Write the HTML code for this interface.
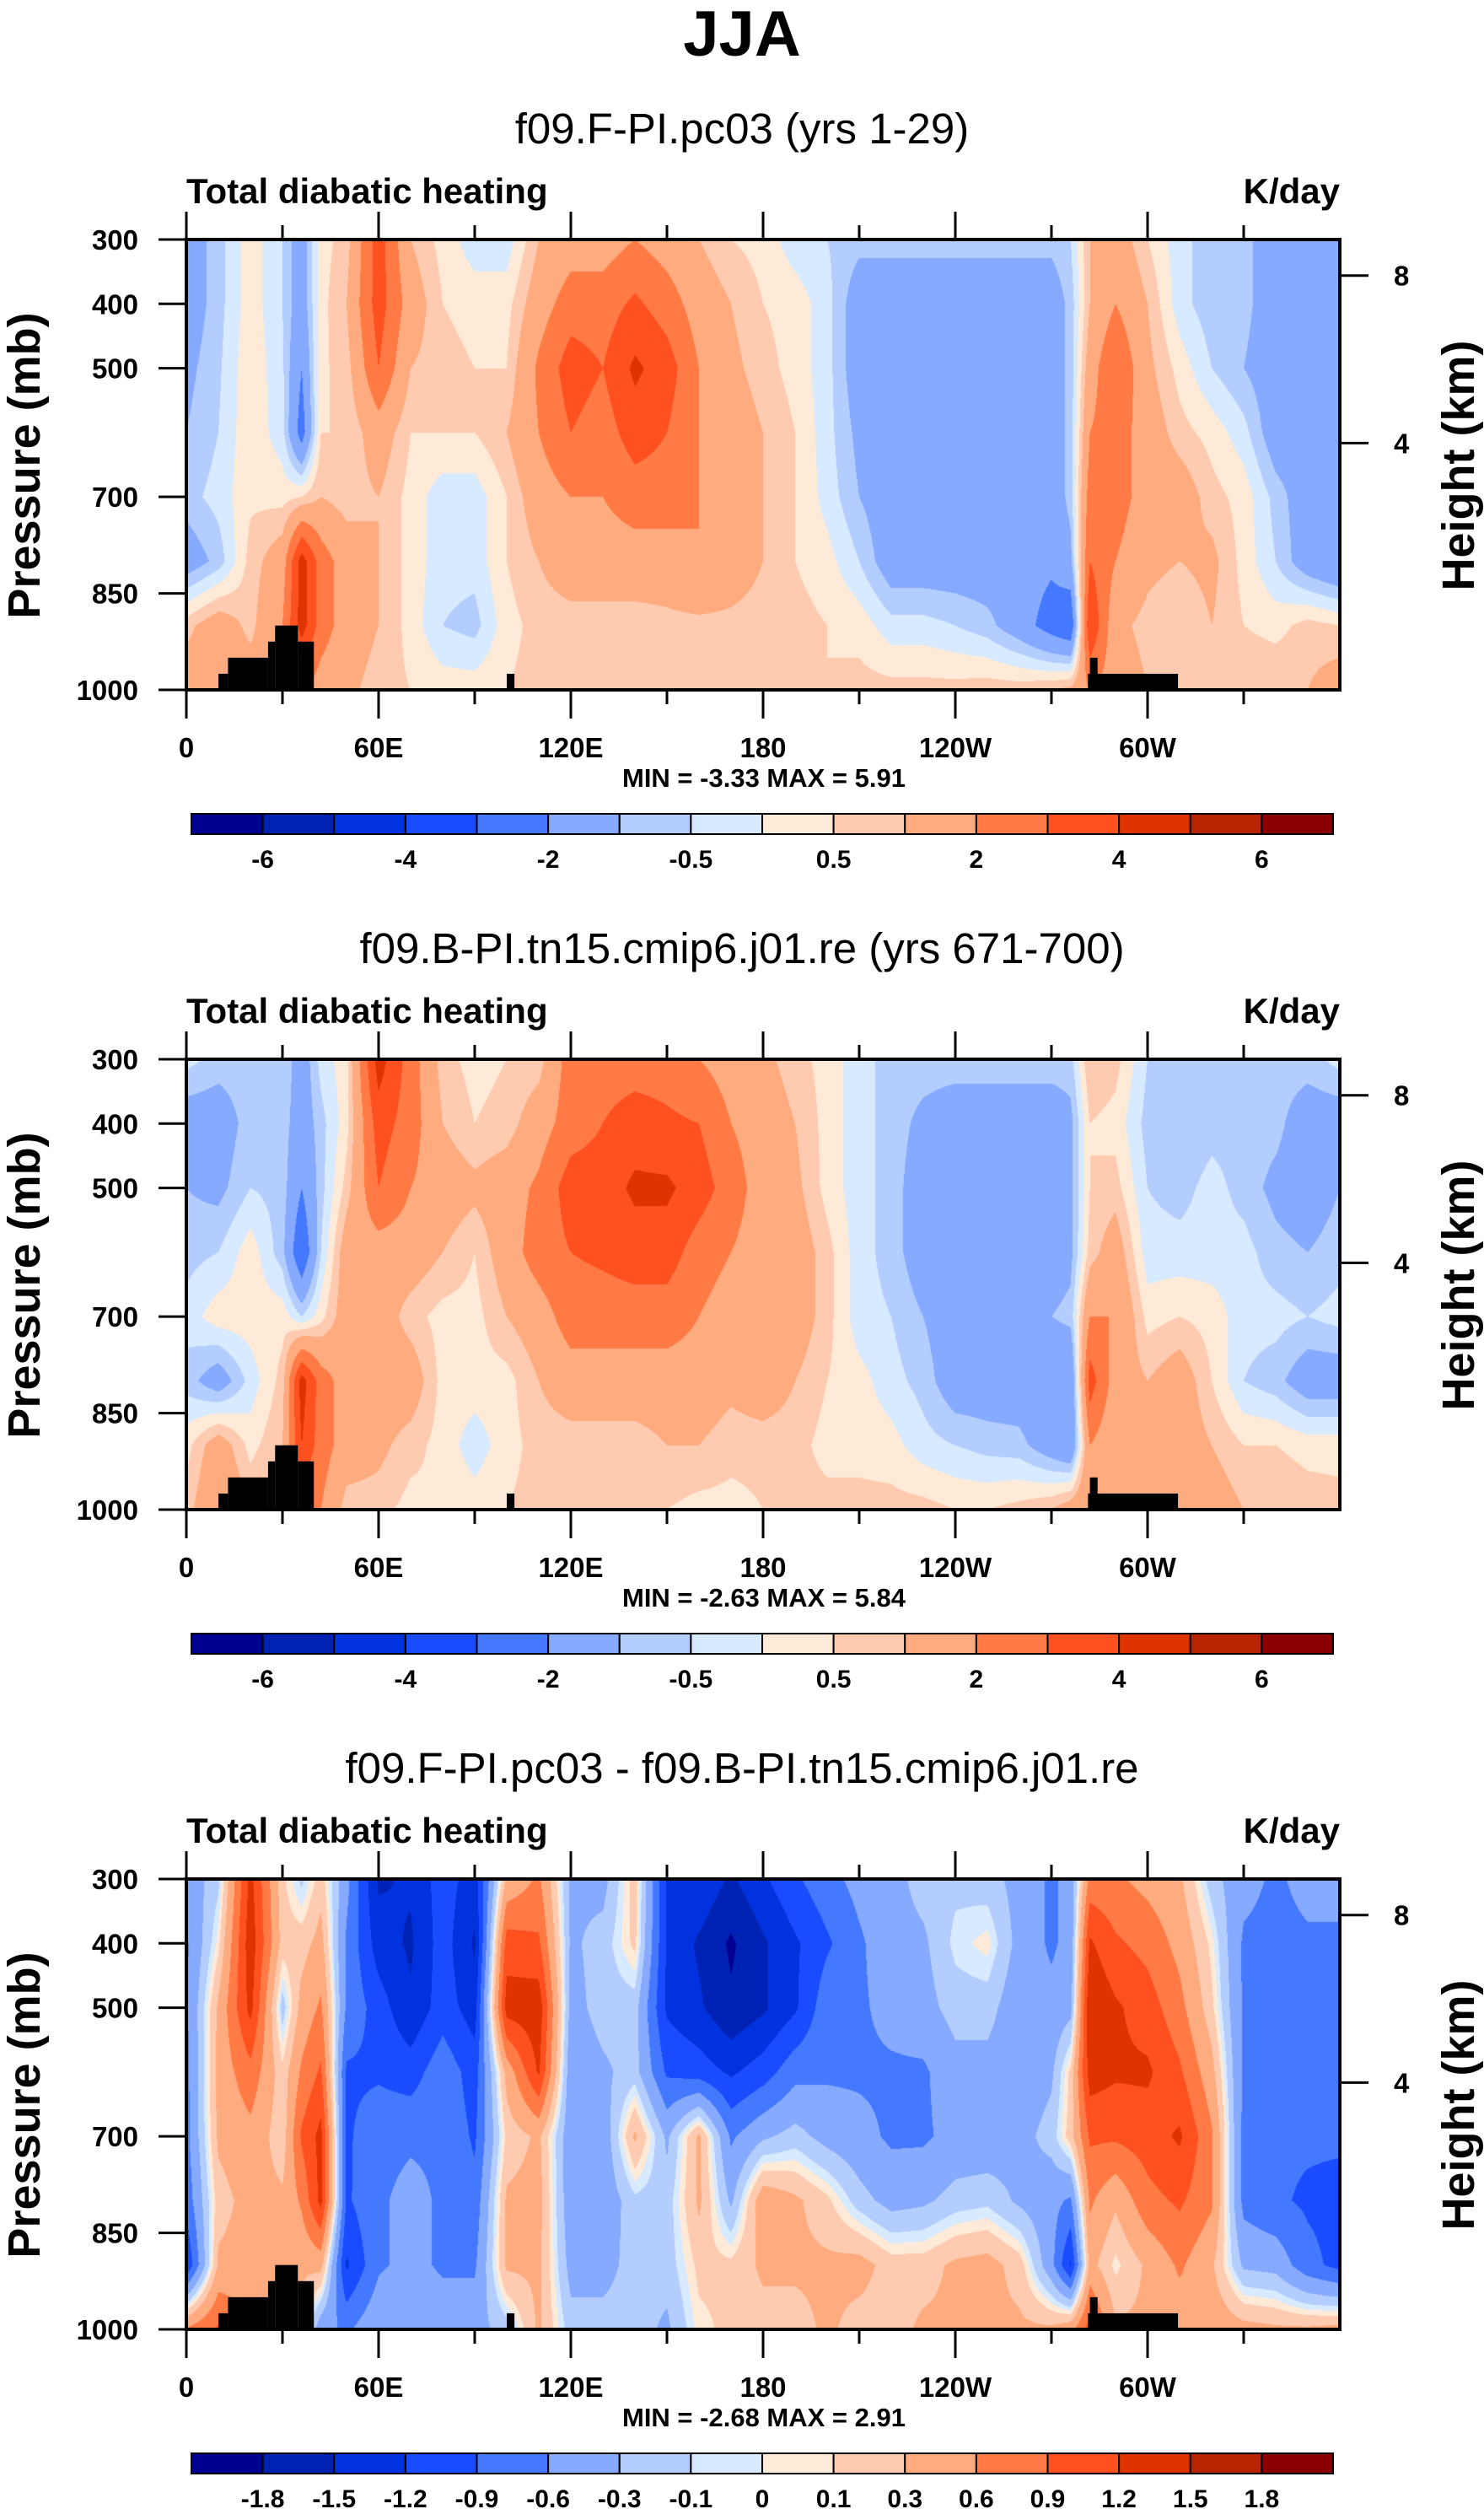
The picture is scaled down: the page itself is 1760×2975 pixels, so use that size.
<!DOCTYPE html>
<html><head><meta charset="utf-8"><style>
body{margin:0;width:1760px;height:2975px;background:#fff;position:relative;overflow:hidden;font-family:"Liberation Sans",Arial,sans-serif}
canvas{position:absolute}
svg{position:absolute;left:0;top:0}
</style></head><body>
<canvas id="c0" width="1368" height="534" style="left:221px;top:284px"></canvas>
<canvas id="c1" width="1368" height="534" style="left:221px;top:1256px"></canvas>
<canvas id="c2" width="1368" height="534" style="left:221px;top:2228px"></canvas>
<svg id="ov" width="1760" height="2975" xmlns="http://www.w3.org/2000/svg">
<text x="880" y="66" text-anchor="middle" font-size="76" font-weight="bold" font-family="Liberation Sans, sans-serif">JJA</text>
</svg>
<script>
const lons=[0,10,20,30,36,42,50,60,70,80,90,100,110,120,130,140,150,160,170,180,190,200,210,220,230,240,250,260,270,276,282,290,300,310,320,330,340,350,360];
const pressureLevels=[300,400,500,600,700,800,900,1000];
const panel1Values=[
[-1.5,-1.5,-1.2,-1.0,-0.7,-1.5,0.8,1.5],
[-0.7,-0.7,-0.6,-0.5,-0.3,-0.8,1.5,1.5],
[0.3,0.3,0.4,0.4,0.4,0.7,0.8,1.5],
[-0.5,-0.5,-0.4,-0.3,0.3,1.5,2,1.5],
[-1.5,-1.5,-2.0,-2.5,0.5,4.5,4.5,2],
[0.3,0.3,0.4,0.5,1.0,2.5,2.5,1.5],
[0.7,1.0,0.7,0.5,0.7,1.5,1.5,1.2],
[3.5,3.5,3.0,1.5,1.0,1.0,1.0,0.7],
[1.0,1.5,1.0,0.5,0.3,0.3,0.3,0.5],
[0.3,0.5,0.7,0.5,-0.3,-0.3,-0.5,0.3],
[-0.3,0.3,0.5,0.5,-0.3,-0.3,-0.7,0.3],
[-0.3,0.3,0.5,1.0,0.5,0.5,0.3,0.5],
[1.0,1.5,2.2,2.0,1.5,1.0,0.7,0.7],
[1.5,2.5,3.5,3.0,2.0,1.5,0.7,0.7],
[1.5,2.5,3.0,2.5,2.0,1.5,0.7,0.7],
[2.0,3.2,4.2,3.5,2.5,1.5,0.7,0.7],
[1.5,2.5,3.5,3.0,2.5,1.5,0.8,0.7],
[1.0,1.5,2.0,2.0,2.0,2.0,0.8,0.7],
[0.5,1.0,1.2,1.5,1.5,1.5,0.8,0.7],
[0.3,0.5,0.7,1.0,1.0,1.0,0.7,0.7],
[-0.3,0.3,0.3,0.5,0.5,0.5,0.7,0.7],
[-0.5,-0.3,-0.3,-0.3,-0.2,0.2,0.5,0.5],
[-0.8,-1.5,-1.5,-1.2,-1.0,-0.5,0.3,0.7],
[-0.8,-1.5,-1.5,-1.5,-1.5,-1.5,-0.3,0.7],
[-0.8,-1.5,-1.5,-1.5,-1.5,-1.5,-0.3,0.7],
[-0.8,-1.5,-1.5,-1.5,-1.5,-1.5,-0.5,0.7],
[-0.8,-1.5,-1.5,-1.5,-1.5,-1.5,-0.8,0.8],
[-0.8,-1.5,-1.5,-1.5,-1.5,-1.5,-1.5,0.8],
[-0.8,-1.5,-1.5,-1.5,-1.5,-1.8,-2.5,1.0],
[-0.5,-0.8,-0.8,-0.8,-0.8,-1.2,-3,1.2],
[1.0,1.0,1.5,2.0,2.5,3.0,4.0,2.0],
[1.5,2.0,3.0,2.5,2.5,2.0,1.2,1.5],
[0.5,1.0,1.2,1.5,1.5,1.2,0.8,1.0],
[-0.3,-0.3,0.3,0.7,1.5,1.0,0.5,1.0],
[-0.8,-0.8,-0.5,0.3,0.7,1.2,1.0,1.0],
[-0.8,-0.8,-1.0,-0.3,0.3,0.3,0.5,1.0],
[-1.5,-1.5,-1.5,-1.5,-0.7,-0.5,0.3,1.0],
[-1.5,-1.5,-1.5,-1.5,-1.5,-1.5,0.7,1.0],
[-1.5,-1.5,-1.5,-1.5,-1.5,-2.0,0.5,1.5]];
const panel2Values=[
[-0.3,-1.5,-1,-0.7,-0.3,-0.7,0.3,0.7],
[-0.7,-1.5,-1.2,-0.5,0.3,-1.5,1.5,2],
[-0.7,-0.7,-0.5,0.3,0.3,-0.3,0.3,1],
[-0.5,-0.7,-0.7,-0.8,0.3,0.7,1,1.5],
[-1.5,-1.5,-2,-3,-0.5,4.5,4,2],
[-0.3,-0.7,-0.7,-0.5,0.3,2.5,2.5,2],
[0.3,0.3,0.7,1.5,1.5,1.5,1.5,0.7],
[4.5,3.5,3,1.5,1.5,1.5,1.2,0.7],
[2.5,2.5,2,1.5,0.7,1.5,0.7,0.3],
[0.7,1,1.5,1,0.3,0.3,0.3,0.5],
[0.3,0.5,1.2,0.5,0.3,0.3,-0.3,0.3],
[0.5,0.7,1.5,1.5,1,0.3,0.3,0.5],
[0.7,1.5,2.2,2.5,1.5,1,0.7,0.7],
[2.5,2.5,3.5,3,2.5,1.5,0.7,0.7],
[2.5,3,3.5,3.2,2.5,1.5,0.7,0.5],
[2.5,3.5,4.2,3.5,2.5,1.5,0.7,0.5],
[2.5,3.2,4.2,3.5,2.5,1.5,1,0.5],
[2,3,3.5,2.5,2,1.5,1,0.3],
[1.5,2,2.5,2,1.5,1.2,0.7,0.3],
[1.2,1.5,1.5,1.5,1.5,1.5,0.7,0.5],
[0.7,1,1.2,1.5,1.5,1,0.7,0.7],
[0.3,0.3,0.3,0.7,0.7,0.5,0.3,0.7],
[-0.3,-0.3,-0.3,-0.3,-0.3,0.2,0.3,0.7],
[-0.7,-0.7,-0.7,-0.7,-0.5,-0.3,0.2,0.7],
[-0.7,-1.2,-1.5,-1.5,-1,-0.7,-0.3,0.7],
[-0.7,-1.5,-1.5,-1.5,-1.5,-1.5,-0.5,0.5],
[-0.7,-1.5,-1.5,-1.5,-1.5,-1.5,-0.7,0.5],
[-0.7,-1.5,-1.5,-1.5,-1,-1.5,-0.8,0.7],
[-0.7,-1.5,-1.5,-1.5,-1,-2,-1.5,1],
[-0.7,-1.2,-1.2,-1.2,-0.8,-2,-2,1.5],
[1,0.5,0.5,0.7,2,3.5,2,2],
[0.7,0.3,0.7,1.5,2,1.5,1.2,1.5],
[-0.5,-0.7,-0.5,-0.3,0.3,1,1.5,1.2],
[-0.7,-1,-0.7,-0.3,0.5,1.5,1.5,1],
[-0.7,-0.7,-0.3,-0.3,0.3,0.5,1,1.5],
[-0.7,-0.7,-0.7,-0.3,-0.3,-0.5,0.5,1],
[-0.7,-0.8,-1.2,-0.8,-0.3,-0.8,0.5,1],
[-0.7,-1.5,-1.5,-1,-0.5,-1.5,0.3,0.8],
[-0.3,-1.5,-1,-0.7,-0.3,-1.5,0.3,0.7]];
const panel3Values=[
[-0.5,-0.65,-0.65,-0.7,-0.7,-0.8,-1.2,0.65],
[-0.15,0.05,0.35,0.4,0.35,0.2,0.35,0.95],
[1.3,1.4,1.3,0.8,0.5,0.4,0.4,0.65],
[0.15,0.2,-0.2,0.15,0.15,0.35,0.35,0.35],
[-0.15,0.2,0.4,0.65,0.95,0.65,0.35,0.2],
[0.2,0.4,0.65,0.95,1.3,1.3,0.4,-0.5],
[-0.5,-0.65,-0.65,-0.95,-0.95,-0.95,-1.25,-0.65],
[-1.55,-1.35,-1.05,-0.95,-0.7,-0.65,-0.65,-0.35],
[-1.45,-1.55,-1.45,-1.05,-0.65,-0.5,-0.5,-0.35],
[-1.05,-1.05,-1.05,-0.7,-0.65,-0.65,-0.65,-0.4],
[-1.35,-1.55,-1.35,-1.05,-0.95,-0.8,-0.65,-0.4],
[0.35,1.05,1.35,0.4,0.15,0.35,0.35,-0.2],
[0.65,0.95,1.4,1.25,0.35,0.4,0.35,0.35],
[-0.35,-0.35,-0.4,-0.5,-0.5,-0.5,-0.4,-0.2],
[-0.4,-0.2,-0.2,-0.35,-0.5,-0.5,-0.4,-0.2],
[0.2,0.15,-0.2,-0.2,0.35,-0.15,-0.2,-0.2],
[-1.25,-1.25,-1.25,-0.95,-0.35,-0.2,-0.2,-0.35],
[-1.25,-1.55,-1.45,-1.05,0.35,0.35,0.15,0.05],
[-1.55,-1.85,-1.75,-1.25,-0.65,-0.35,0.15,0.15],
[-1.25,-1.55,-1.55,-1.05,-0.35,0.5,0.35,0.2],
[-0.95,-1.25,-1.25,-0.7,-0.2,0.35,0.35,0.2],
[-0.7,-0.95,-0.7,-0.65,-0.4,0.15,0.35,0.35],
[-0.5,-0.65,-0.65,-0.65,-0.5,-0.2,0.4,0.2],
[-0.4,-0.4,-0.5,-0.65,-0.65,-0.4,0.2,0.2],
[-0.2,-0.35,-0.4,-0.65,-0.65,-0.35,0.2,0.35],
[-0.15,-0.05,-0.2,-0.4,-0.5,-0.2,0.35,0.35],
[-0.2,0.05,-0.2,-0.4,-0.5,-0.15,0.4,0.35],
[-0.4,-0.4,-0.5,-0.5,-0.4,-0.35,0.2,0.35],
[-0.65,-0.65,-0.5,-0.35,-0.2,-0.5,-0.5,0.35],
[-0.5,-0.5,-0.4,0.15,0.2,-0.65,-1.25,0.5],
[0.7,1.25,1.5,1.35,0.95,0.65,0.4,1.05],
[0.65,0.95,1.25,1.25,0.95,0.35,0.05,0.35],
[0.5,0.8,1.05,1.25,1.05,0.8,0.35,0.35],
[0.35,0.5,0.7,0.95,1.25,0.95,0.65,0.4],
[-0.2,0.05,0.15,0.4,0.65,0.65,0.35,0.5],
[-0.5,-0.65,-0.65,-0.65,-0.7,-0.7,-0.35,0.4],
[-0.65,-0.7,-0.8,-0.8,-0.85,-0.85,-0.4,0.35],
[-0.5,-0.65,-0.7,-0.85,-0.85,-0.95,-0.8,0.35],
[-0.5,-0.65,-0.7,-0.85,-0.85,-1.0,-1.0,0.4]];
const levelsFull=[-6,-5,-4,-3,-2,-1,-0.5,0,0.5,1,2,3,4,5,6];
const levelsDiff=[-1.8,-1.5,-1.2,-0.9,-0.6,-0.3,-0.1,0,0.1,0.3,0.6,0.9,1.2,1.5,1.8];
const labelsFull=['-6','','-4','','-2','','-0.5','','0.5','','2','','4','','6'];
const labelsDiff=['-1.8','-1.5','-1.2','-0.9','-0.6','-0.3','-0.1','0','0.1','0.3','0.6','0.9','1.2','1.5','1.8'];
const fillColors=['#000090','#0022b4','#0033dd','#1a4cff','#4478ff','#85aaff','#b4cdff','#d7eaff','#ffead8','#ffcbb0','#ffab80','#ff7a45','#ff5020','#e03400','#b82400','#8a0000'];
const xTickLons=[0,60,120,180,240,300];
const xTickLabels=['0','60E','120E','180','120W','60W'];
const xMinorLons=[30,90,150,210,270,330];
const pressureTicks=[300,400,500,700,850,1000];
const heightTicksKm=[8,4];
const landBlocks=[[10,13,975],[13,25.5,950],[25.5,27.7,925],[27.7,34.8,900],[34.8,39.8,925],[100,102.4,975],[282,284.4,950],[281.4,309.5,975]];
const panelTitles=['f09.F-PI.pc03 (yrs 1-29)','f09.B-PI.tn15.cmip6.j01.re (yrs 671-700)','f09.F-PI.pc03 - f09.B-PI.tn15.cmip6.j01.re'];
const panelMin=['-3.33','-2.63','-2.68'];
const panelMax=['5.91','5.84','2.91'];

const X0=221,W=1368,H=534,TOPS=[284,1256,2228];
const NS='http://www.w3.org/2000/svg';
const svg=document.getElementById('ov');
function xScale(lon){return X0+lon/360*W;}
function yScale(p,top){return top+(p-300)/700*H;}
function heightToP(z){return 1013.25*Math.pow(1-2.25577e-5*z*1000,5.25588);}
function mk(tag,attrs,parent){const e=document.createElementNS(NS,tag);for(const k in attrs)e.setAttribute(k,attrs[k]);(parent||svg).appendChild(e);return e;}
function txt(s,attrs,parent){const e=mk('text',attrs,parent);e.textContent=s;return e;}

function drawField(cv,vals,levels){
  const ctx=cv.getContext('2d');const img=ctx.createImageData(W,H);
  const rgb=fillColors.map(c=>[parseInt(c.substr(1,2),16),parseInt(c.substr(3,2),16),parseInt(c.substr(5,2),16)]);
  const colI=[],colT=[];
  for(let x=0;x<W;x++){const lon=(x+0.5)/W*360;let i=0;while(i<lons.length-2&&lons[i+1]<lon)i++;colI.push(i);colT.push((lon-lons[i])/(lons[i+1]-lons[i]));}
  for(let y=0;y<H;y++){
    const p=300+(y+0.5)/H*700;let j=0;while(j<pressureLevels.length-2&&pressureLevels[j+1]<p)j++;
    const u=(p-pressureLevels[j])/(pressureLevels[j+1]-pressureLevels[j]);
    for(let x=0;x<W;x++){
      const i=colI[x],t=colT[x];
      const v=(1-t)*((1-u)*vals[i][j]+u*vals[i][j+1])+t*((1-u)*vals[i+1][j]+u*vals[i+1][j+1]);
      let k=0;while(k<levels.length&&v>=levels[k])k++;
      const c=rgb[k],o=(y*W+x)*4;img.data[o]=c[0];img.data[o+1]=c[1];img.data[o+2]=c[2];img.data[o+3]=255;
    }
  }
  ctx.putImageData(img,0,0);
}
const allVals=[panel1Values,panel2Values,panel3Values];
for(let n=0;n<3;n++){
  drawField(document.getElementById('c'+n),allVals[n],n<2?levelsFull:levelsDiff);
  const top=TOPS[n],off=n*972;
  const g=mk('g',{});
  
  
  const st=txt(panelTitles[n],{x:880,y:170+off,'text-anchor':'middle','font-size':51},g);
  
  
  const lt=txt('Total diabatic heating',{x:X0,y:241+off,'font-size':42,'font-weight':'bold'},g);
  
  
  const ut=txt('K/day',{x:X0+W,y:241+off,'text-anchor':'end','font-size':42,'font-weight':'bold'},g);
  
  
  for(const b of landBlocks){
    const r=mk('rect',{x:xScale(b[0]),y:yScale(b[2],top),width:xScale(b[1])-xScale(b[0]),height:yScale(1000,top)-yScale(b[2],top),fill:'#000'},g);
    
    
  }
  const box=mk('rect',{x:X0,y:top,width:W,height:H,fill:'none',stroke:'#000','stroke-width':4},g);
  
  
  xTickLons.forEach((lon,i)=>{
    const x=xScale(lon);
    mk('line',{x1:x,x2:x,y1:top-33,y2:top,stroke:'#000','stroke-width':3},g);
    mk('line',{x1:x,x2:x,y1:top+H,y2:top+H+34,stroke:'#000','stroke-width':3},g);
    const t=txt(xTickLabels[i],{x:x,y:top+H+80,'text-anchor':'middle','font-size':33,'font-weight':'bold'},g);
    
    
  });
  xMinorLons.forEach(lon=>{const x=xScale(lon);
    mk('line',{x1:x,x2:x,y1:top-17,y2:top,stroke:'#000','stroke-width':3},g);
    mk('line',{x1:x,x2:x,y1:top+H,y2:top+H+17,stroke:'#000','stroke-width':3},g);});
  pressureTicks.forEach(p=>{const y=yScale(p,top);
    mk('line',{x1:X0-33,x2:X0,y1:y,y2:y,stroke:'#000','stroke-width':3},g);
    const t=txt(String(p),{x:164,y:y+12,'text-anchor':'end','font-size':33,'font-weight':'bold'},g);
    
    });
  heightTicksKm.forEach(z=>{const y=yScale(heightToP(z),top);
    mk('line',{x1:X0+W,x2:X0+W+34,y1:y,y2:y,stroke:'#000','stroke-width':3},g);
    const t=txt(String(z),{x:1653,y:y+12,'font-size':33,'font-weight':'bold'},g);
    
    });
  const yt=txt('Pressure (mb)',{x:0,y:0,'text-anchor':'middle','font-size':54,'font-weight':'bold',transform:'translate(47,'+(top+268)+') rotate(-90)'},g);
  
  
  const yt2=txt('Height (km)',{x:0,y:0,'text-anchor':'middle','font-size':54,'font-weight':'bold',transform:'translate(1748,'+(top+268)+') rotate(-90)'},g);
  
  
  const mm=txt('MIN =  '+panelMin[n]+'   MAX =   '+panelMax[n],{x:906,y:933+off,'text-anchor':'middle','font-size':31,'font-weight':'bold','xml:space':'preserve'},g);
  
  
  const cbL=227,cbR=1581,cbY=965+off,bw=(cbR-cbL)/16;
  const labs=n<2?labelsFull:labelsDiff;
  fillColors.forEach((c,i)=>{
    const r=mk('rect',{x:cbL+i*bw,y:cbY,width:bw,height:24,fill:c,stroke:'#000','stroke-width':2},g);
    
    
  });
  labs.forEach((s,i)=>{if(!s)return;
    const t=txt(s,{x:cbL+(i+1)*bw,y:cbY+64,'text-anchor':'middle','font-size':30,'font-weight':'bold'},g);
    
    });
}
</script>
</body></html>
